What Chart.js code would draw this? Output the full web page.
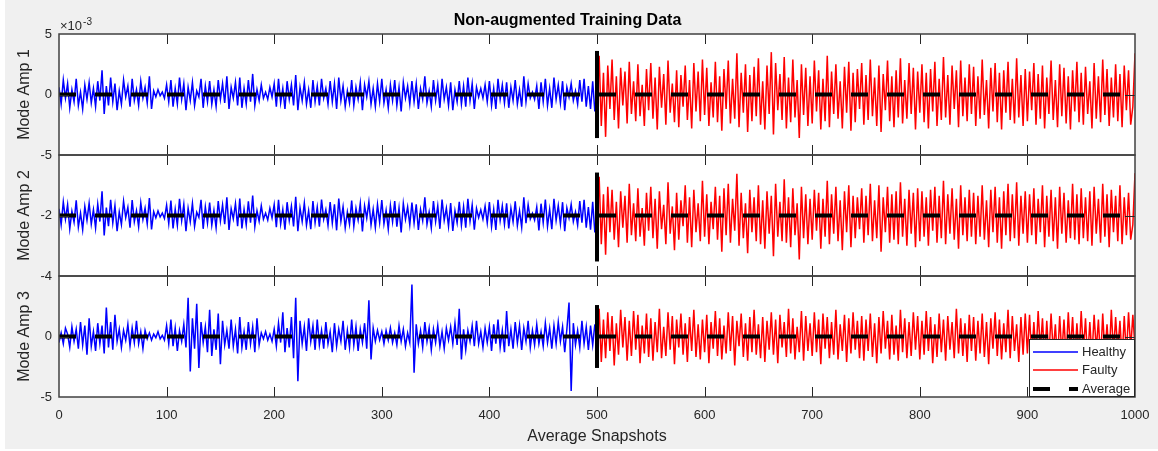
<!DOCTYPE html>
<html><head><meta charset="utf-8">
<script src="https://cdn.jsdelivr.net/npm/chart.js@4.4.0/dist/chart.umd.min.js"></script>
<style>
html,body{margin:0;padding:0;background:#ffffff;}
#wrap{position:relative;width:1158px;height:451px;overflow:hidden;}
#panel{position:absolute;left:5px;top:0;width:1153px;height:449px;background:#f0f0f0;}
canvas{position:absolute;left:0;top:0;}
</style></head><body>
<div id="wrap"><div id="panel"></div><canvas id="c" width="1158" height="451"></canvas></div>
<script>
const TITLE = 'Non-augmented Training Data';
const X_LABEL = 'Average Snapshots';
const Y_LABELS = ['Mode Amp 1', 'Mode Amp 2', 'Mode Amp 3'];
const X_TICKS = [0, 100, 200, 300, 400, 500, 600, 700, 800, 900, 1000];
const Y_RANGES = [[-5, 5], [-4, 0], [-5, 5]];
const Y_TICKS = [[-5, 0, 5], [-4, -2], [-5, 0]];
const EXPONENT_BASE = '\u00d710';
const EXPONENT_POWER = '-3';
const LEGEND_LABELS = ['Healthy', 'Faulty', 'Average'];
const STEP = 2;
const HEALTHY_START = 0;
const FAULTY_START = 500;
const SPLIT_X = 500;
const X_MIN = 0, X_MAX = 1000;

const HEALTHY_1 = [
0.6,-0.8,1.2,-0.3,0.9,-1.1,0.4,-0.6,1.3,-0.9,0.2,-1.2,0.8,-0.4,1.0,-0.7,0.5,-1.0,1.1,-0.5,2.0,-1.6,0.7,-0.9,1.4,
-0.6,0.9,-1.3,0.3,-0.8,1.2,-0.2,0.7,-1.0,1.3,-0.5,0.4,-0.9,1.1,-0.3,0.6,-0.7,1.5,-1.2,0.3,-0.2,0.4,-0.1,0.2,-0.3,
0.8,-0.6,1.2,-1.0,0.5,-0.8,1.4,-0.4,0.9,-1.3,0.6,-0.5,1.0,-0.9,0.3,-0.2,1.3,-1.1,0.7,-0.6,1.1,-0.8,0.4,-1.0,1.2,
-0.4,0.9,-0.7,1.5,-1.2,0.6,-0.3,1.0,-0.9,1.4,-1.1,0.5,-0.8,1.2,-0.6,1.7,-0.9,0.4,-0.5,0.8,-0.3,0.2,-0.4,0.6,-0.2,
0.9,-1.0,1.3,-0.7,0.5,-1.2,1.1,-0.4,0.8,-0.9,1.6,-1.3,0.6,-0.5,1.0,-0.8,0.4,-1.1,1.2,-0.6,0.7,-0.9,1.3,-0.3,0.5,
-0.8,1.1,-0.6,0.9,-1.2,1.4,-0.5,0.7,-1.0,0.3,-0.7,1.2,-0.9,0.6,-0.4,1.0,-1.3,0.8,-0.2,1.1,-0.8,0.5,-1.0,0.9,-0.6,
1.3,-0.7,0.4,-1.1,0.8,-0.5,1.2,-0.9,0.6,-1.4,1.0,-0.3,0.7,-0.8,1.1,-0.6,0.9,-1.2,0.5,-0.4,1.5,-0.7,0.3,-1.0,1.2,
-0.5,0.8,-1.1,1.3,-0.4,0.6,-0.9,1.0,-1.3,0.4,-0.6,1.1,-0.8,0.7,-1.0,1.4,-0.5,0.9,-1.2,0.6,-0.2,0.5,-0.3,0.8,-0.6,
1.1,-0.9,0.5,-1.2,1.3,-0.4,0.8,-0.7,1.0,-1.1,0.6,-0.5,1.2,-0.8,0.4,-1.0,1.5,-0.6,0.9,-0.3,0.2,-0.4,0.7,-1.2,1.0,
-0.6,1.3,-0.9,0.5,-1.1,1.4,-0.4,0.8,-0.7,1.1,-1.3,0.6,-0.2,0.9,-0.5,0.3,-0.8,1.2,-0.6,1.3,-1.0,0.7,-1.2,1.1,-1.4
];
const FAULTY_1 = [
0.4,3.2,-2.6,1.8,-3.5,2.4,-1.2,2.9,-2.1,1.5,-2.8,2.2,-0.9,1.9,-2.4,2.7,-1.6,1.1,-2.2,2.5,-1.8,0.8,-2.6,2.1,-1.3,
2.6,-2.0,1.4,-2.9,2.3,-1.1,1.7,-2.5,2.8,-1.5,0.9,-2.3,2.0,-2.7,1.6,-1.0,2.4,-2.1,1.2,-2.8,2.6,-1.4,1.9,-2.2,2.9,
-1.7,2.2,-2.6,1.0,-1.9,2.7,-2.3,1.5,-3.0,2.1,-1.2,2.8,-2.4,1.3,-2.0,3.4,-2.7,1.8,-1.5,2.5,-3.1,1.6,-2.2,2.3,-1.8,
3.0,-2.5,1.1,-2.9,2.4,-1.6,3.5,-3.3,2.6,-1.3,1.7,-2.1,3.1,-2.8,1.4,-2.3,2.9,-1.9,1.2,-3.6,2.5,-1.7,2.2,-2.6,1.5,
-2.4,2.8,-1.4,2.0,-2.9,1.3,-2.2,3.2,-2.7,1.9,-1.6,2.5,-2.0,1.1,-2.8,2.3,-1.5,2.7,-3.0,1.8,-2.3,2.1,-1.2,2.6,-2.5,
1.6,-2.1,2.9,-1.8,1.4,-2.6,2.4,-3.1,1.7,-1.3,2.8,-2.2,1.5,-2.7,2.0,-1.9,3.0,-2.4,1.2,-2.0,2.6,-1.6,2.2,-2.9,1.9,
-1.5,2.5,-2.3,1.8,-2.8,2.1,-1.4,2.7,-2.6,1.3,-2.1,3.1,-1.9,1.6,-2.5,2.4,-1.2,2.0,-2.7,2.8,-1.8,1.4,-2.2,2.5,-1.6,
2.3,-2.6,1.5,-2.0,2.9,-1.7,1.2,-2.8,2.2,-1.4,2.6,-2.3,1.8,-2.9,2.0,-1.5,2.7,-2.1,1.3,-2.4,3.0,-1.9,1.6,-2.6,2.1,
-2.2,1.9,-1.3,2.6,-2.5,1.7,-2.0,2.4,-2.8,1.4,-1.6,2.8,-2.1,1.2,-2.7,2.5,-1.8,2.2,-2.4,1.5,-2.9,2.0,-1.4,2.7,-2.3,
1.8,-2.5,2.3,-1.6,1.1,-2.8,2.6,-2.0,1.5,-2.3,2.9,-1.7,2.1,-2.6,1.4,-1.9,2.5,-2.2,1.7,-2.7,2.4,-1.3,2.0,-2.5,-1.0,3.4
];
const HEALTHY_2 = [
-1.78,-2.31,-1.55,-2.12,-1.64,-2.44,-1.86,-2.22,-1.50,-2.38,-1.92,-2.47,-1.70,-2.16,-1.59,-2.29,-1.81,-2.41,-1.62,-2.20,-1.20,-2.66,-1.74,-2.35,-1.48,
-2.25,-1.67,-2.52,-1.88,-2.30,-1.53,-2.07,-1.73,-2.40,-1.49,-2.21,-1.84,-2.37,-1.58,-2.13,-1.76,-2.28,-1.42,-2.46,-1.87,-2.08,-1.85,-2.05,-1.92,-2.10,
-1.66,-2.27,-1.51,-2.43,-1.79,-2.33,-1.45,-2.17,-1.63,-2.52,-1.76,-2.21,-1.60,-2.36,-1.89,-2.06,-1.48,-2.44,-1.71,-2.25,-1.57,-2.32,-1.83,-2.41,-1.52,
-2.18,-1.65,-2.29,-1.40,-2.48,-1.77,-2.11,-1.61,-2.35,-1.44,-2.43,-1.80,-2.31,-1.53,-2.24,-1.34,-2.37,-1.84,-2.19,-1.68,-2.12,-1.92,-2.15,-1.76,-2.08,
-1.64,-2.39,-1.48,-2.28,-1.80,-2.47,-1.56,-2.17,-1.69,-2.36,-1.38,-2.52,-1.75,-2.20,-1.59,-2.32,-1.84,-2.45,-1.52,-2.24,-1.72,-2.37,-1.47,-2.12,-1.81,
-2.33,-1.56,-2.25,-1.63,-2.49,-1.44,-2.19,-1.71,-2.41,-1.88,-2.29,-1.51,-2.36,-1.76,-2.15,-1.60,-2.53,-1.68,-2.09,-1.55,-2.31,-1.79,-2.40,-1.64,-2.23,
-1.49,-2.28,-1.83,-2.45,-1.67,-2.21,-1.52,-2.37,-1.75,-2.56,-1.60,-2.13,-1.72,-2.31,-1.57,-2.25,-1.63,-2.48,-1.80,-2.17,-1.40,-2.29,-1.88,-2.41,-1.52,
-2.20,-1.68,-2.44,-1.47,-2.16,-1.76,-2.36,-1.59,-2.51,-1.84,-2.24,-1.55,-2.32,-1.71,-2.40,-1.45,-2.19,-1.65,-2.47,-1.77,-2.07,-1.81,-2.12,-1.69,-2.25,
-1.56,-2.37,-1.80,-2.48,-1.48,-2.17,-1.68,-2.29,-1.60,-2.43,-1.76,-2.21,-1.53,-2.33,-1.84,-2.39,-1.40,-2.25,-1.64,-2.12,-1.93,-2.15,-1.72,-2.49,-1.61,
-2.24,-1.47,-2.36,-1.79,-2.45,-1.45,-2.16,-1.67,-2.28,-1.56,-2.52,-1.75,-2.08,-1.63,-2.20,-1.88,-2.32,-1.52,-2.24,-1.48,-2.40,-1.72,-2.47,-1.55,-2.56
];
const FAULTY_2 = [
-1.85,-0.72,-2.95,-1.30,-3.30,-1.05,-2.55,-1.15,-2.80,-1.55,-3.05,-1.20,-2.40,-1.35,-2.90,-0.95,-2.65,-1.60,-2.85,-1.10,-2.70,-1.75,-3.00,-1.25,-2.50,
-1.05,-2.75,-1.45,-3.10,-1.20,-2.45,-1.65,-2.95,-0.90,-2.60,-1.70,-3.15,-1.25,-2.80,-1.50,-2.35,-1.00,-2.90,-1.40,-3.05,-1.15,-2.55,-1.60,-2.85,-0.85,
-2.70,-1.30,-2.95,-1.55,-2.45,-1.05,-2.80,-1.35,-3.20,-1.10,-2.65,-0.95,-2.90,-1.45,-2.50,-0.62,-3.00,-1.25,-2.75,-1.60,-3.25,-1.15,-2.55,-1.40,-2.85,
-1.00,-2.95,-1.50,-3.10,-1.20,-2.60,-1.35,-3.35,-0.95,-2.70,-1.55,-2.85,-0.80,-2.90,-1.40,-3.05,-1.10,-2.65,-1.60,-3.45,-1.05,-2.75,-1.30,-2.95,-1.45,
-2.80,-1.15,-2.50,-1.25,-3.10,-1.45,-2.70,-0.85,-2.95,-1.30,-2.60,-1.05,-2.85,-1.50,-3.15,-1.20,-2.55,-1.00,-3.05,-1.35,-2.75,-1.40,-2.45,-1.10,-2.90,
-1.35,-2.65,-0.95,-2.85,-1.50,-2.75,-1.00,-3.20,-1.40,-2.55,-1.05,-2.90,-1.30,-2.80,-1.20,-2.95,-0.90,-2.70,-1.45,-3.00,-1.15,-2.60,-1.25,-3.05,-1.10,
-2.85,-1.20,-2.70,-1.40,-3.00,-1.15,-2.50,-1.05,-2.90,-1.35,-2.75,-0.85,-2.95,-1.30,-2.60,-1.10,-2.80,-1.45,-3.10,-1.00,-2.65,-1.40,-2.85,-1.15,-2.70,
-1.25,-2.95,-1.35,-2.70,-1.00,-2.80,-1.50,-3.05,-1.15,-2.55,-1.05,-2.90,-1.40,-3.10,-1.20,-2.65,-0.95,-2.85,-1.30,-2.75,-0.90,-3.00,-1.35,-2.60,-1.20,
-2.90,-1.30,-2.65,-1.10,-2.95,-1.45,-2.55,-1.00,-3.05,-1.35,-2.70,-1.15,-2.85,-1.40,-3.10,-1.05,-2.60,-1.25,-2.90,-1.50,-2.75,-0.95,-2.80,-1.30,-2.95,
-1.10,-2.75,-1.40,-2.85,-1.20,-3.00,-1.05,-2.60,-1.45,-2.90,-0.95,-2.70,-1.30,-3.05,-1.15,-2.55,-1.35,-2.85,-1.00,-2.95,-1.40,-2.65,-1.25,-2.80,-2.30,-0.60
];
const HEALTHY_3 = [
-0.5,0.3,-0.6,0.7,0.2,-0.9,0.8,-0.4,0.6,-1.0,1.2,-0.7,0.9,-1.5,1.5,-0.8,0.4,-1.2,1.1,-0.6,0.9,-1.4,2.4,-0.9,1.2,
-1.1,1.8,-0.4,0.6,-0.9,0.5,-0.3,1.0,-0.8,0.7,-0.5,1.3,-0.6,0.4,-1.0,0.5,-0.2,0.3,-0.3,0.2,-0.1,0.4,-0.2,0.1,-0.3,
0.9,-0.6,1.4,-0.8,0.7,-1.2,0.5,-0.4,1.0,-0.9,3.2,-2.9,1.5,-1.0,2.7,-2.6,1.2,-0.5,0.8,-1.3,2.2,-1.6,0.6,-1.1,1.9,
-2.3,1.3,-0.7,0.5,-1.0,1.4,-0.8,0.6,-1.4,1.6,-0.9,0.4,-1.1,1.2,-0.6,0.8,-1.3,1.5,-0.7,0.3,-0.2,0.4,-0.3,0.2,-0.4,
0.6,-0.8,1.1,-0.5,2.0,-1.3,0.7,-0.9,1.6,-1.8,3.2,-3.7,1.3,-0.6,0.8,-1.2,1.5,-0.4,0.9,-1.1,1.4,-0.7,0.5,-1.0,1.2,
-0.6,0.4,-1.3,1.1,-0.8,0.6,-0.4,1.3,-1.1,0.5,-0.9,1.4,-0.7,0.8,-1.2,0.6,-0.5,1.1,-1.0,3.0,-1.9,0.7,-0.4,0.5,-0.3,
0.4,-0.6,0.5,-0.3,0.7,-0.5,0.3,-0.7,0.9,-0.4,0.6,-0.8,0.3,-0.5,4.3,-3.0,1.0,-0.6,0.5,-0.9,1.2,-0.4,0.7,-1.1,0.6,
-0.5,0.9,-0.8,0.4,-1.0,0.7,-0.3,0.8,-0.6,1.1,-0.7,2.3,-1.9,0.6,-1.1,0.5,-0.4,0.9,-0.8,1.3,-0.6,0.4,-0.9,0.7,-0.5,
0.8,-1.2,1.0,-0.6,1.4,-0.9,0.5,-1.3,2.1,-0.8,0.6,-1.0,1.2,-0.5,0.9,-1.1,0.7,-0.4,1.3,-0.9,0.5,-0.7,1.0,-0.6,0.4,
-0.8,1.1,-0.5,0.7,-1.0,0.9,-0.6,1.2,-0.4,0.8,-1.3,0.6,2.8,-4.5,1.1,-0.7,0.5,-0.9,1.3,-0.6,0.8,-1.1,0.9,-0.7,1.0
];
const FAULTY_3 = [
0.3,2.3,-2.1,1.4,-1.8,2.0,-1.2,1.7,-2.4,1.1,-1.5,2.2,-0.9,1.6,-2.0,1.3,-1.6,2.1,-1.1,1.8,-2.2,0.9,-1.4,1.9,-1.7,
1.5,-2.0,1.2,-1.3,2.3,-1.8,0.8,-1.6,2.0,-1.1,1.7,-2.3,1.4,-0.9,1.9,-1.5,1.1,-2.1,1.6,-1.2,2.2,-1.7,1.0,-1.9,1.4,
-1.3,1.8,-2.2,1.2,-1.0,2.1,-1.6,1.5,-1.9,0.9,-1.4,2.0,-1.2,1.7,-2.4,1.3,-0.8,1.9,-1.7,1.1,-2.0,1.6,-1.3,2.2,-1.5,
1.0,-1.8,1.6,-2.1,1.3,-1.1,2.0,-1.5,1.4,-2.2,1.8,-0.9,1.2,-1.7,2.3,-1.4,1.5,-1.9,0.8,-1.3,2.1,-2.0,1.7,-1.2,1.1,
-1.6,2.0,-1.3,1.4,-2.3,1.9,-1.0,1.6,-1.8,1.2,-1.5,2.2,-1.9,1.0,-1.2,1.8,-2.1,1.5,-1.4,2.0,-1.1,1.3,-1.8,1.7,-2.0,
1.4,-1.2,1.9,-1.7,1.1,-2.2,1.6,-1.4,2.1,-1.0,1.3,-1.9,1.8,-1.5,0.9,-2.0,2.2,-1.3,1.5,-1.8,1.2,-1.6,2.0,-1.1,1.7,
-1.9,1.3,-1.5,2.1,-1.2,1.6,-2.2,1.0,-1.7,1.9,-1.3,1.4,-2.0,1.7,-1.1,1.2,-1.8,2.3,-1.4,1.5,-1.6,1.1,-2.1,1.8,-1.2,
1.6,-2.0,1.3,-1.4,1.9,-1.7,1.2,-2.3,1.5,-1.0,2.0,-1.6,1.4,-1.9,1.1,-1.3,2.2,-1.8,1.7,-1.2,1.0,-2.1,1.6,-1.5,1.9,
-1.4,1.8,-1.9,1.2,-1.6,2.1,-1.1,1.5,-2.0,1.3,-1.7,1.9,-1.3,1.0,-2.2,1.7,-1.5,1.4,-1.8,2.0,-1.2,1.6,-1.9,1.1,-1.6,
2.1,-1.3,1.5,-2.0,1.2,-1.7,1.8,-1.1,1.4,-2.1,1.9,-1.5,1.0,-1.8,2.2,-1.4,1.6,-1.2,1.3,-1.9,1.7,-1.6,2.0,-1.0,1.8,-0.9
];
const AVERAGE = [0, -2, 0];
const SPLIT_LOW = [-3.6, -3.52, -2.6];
const SPLIT_HIGH = [3.6, -0.58, 2.6];

const HEALTHY = [HEALTHY_1, HEALTHY_2, HEALTHY_3];
const FAULTY = [FAULTY_1, FAULTY_2, FAULTY_3];
const AXIS_IDS = ['y1', 'y2', 'y3'];
const COLORS = { healthy: '#0000ff', faulty: '#ff0000', average: '#000000', axis: '#262626', text: '#262626' };
const FONT = "'Liberation Sans', Arial, Helvetica, sans-serif";

function toPoints(arr, start) { return arr.map((v, i) => ({ x: start + i * STEP, y: v })); }

const datasets = [];
const legendSets = {};
AXIS_IDS.forEach((id, k) => {
  const avg = { label: LEGEND_LABELS[2], data: [{ x: X_MIN, y: AVERAGE[k] }, { x: X_MAX, y: AVERAGE[k] }], yAxisID: id,
    borderColor: COLORS.average, borderWidth: 4, borderDash: [17, 19], borderCapStyle: 'butt', pointRadius: 0, order: 0 };
  const split = { label: 'split', data: [{ x: SPLIT_X, y: SPLIT_LOW[k] }, { x: SPLIT_X, y: SPLIT_HIGH[k] }], yAxisID: id,
    borderColor: COLORS.average, borderWidth: 4, borderCapStyle: 'butt', pointRadius: 0, order: 0 };
  const h = { label: LEGEND_LABELS[0], data: toPoints(HEALTHY[k], HEALTHY_START), yAxisID: id,
    borderColor: COLORS.healthy, borderWidth: 1.5, pointRadius: 0, order: 2 };
  const f = { label: LEGEND_LABELS[1], data: toPoints(FAULTY[k], FAULTY_START), yAxisID: id,
    borderColor: COLORS.faulty, borderWidth: 1.5, pointRadius: 0, order: 1 };
  datasets.push(h, f, avg, split);
  if (k === 2) { legendSets.items = [h, f, avg]; }
});

function yScale(k) {
  return {
    type: 'linear', position: 'left', stack: 'modes', stackWeight: 1, weight: 1,
    min: Y_RANGES[k][0], max: Y_RANGES[k][1],
    afterBuildTicks: s => { s.ticks = Y_TICKS[k].map(v => ({ value: v })); },
    afterFit: s => { s.width = 59; },
    grid: { display: false, drawTicks: false }, border: { display: false },
    ticks: { padding: 7, color: COLORS.text, font: { size: 13 }, callback: v => String(v) },
    title: { display: true, text: Y_LABELS[k], color: COLORS.text, font: { size: 16 }, padding: { top: 15.4, bottom: 0 } }
  };
}

const matlabFrame = {
  id: 'matlabFrame',
  beforeDatasetsDraw(chart) {
    const { ctx, chartArea: a } = chart;
    ctx.save(); ctx.fillStyle = '#ffffff'; ctx.fillRect(a.left, a.top, a.right - a.left, a.bottom - a.top); ctx.restore();
  },
  afterDatasetsDraw(chart) {
    const { ctx, chartArea: a } = chart;
    const xs = chart.scales.x;
    ctx.save();
    ctx.strokeStyle = COLORS.axis;
    ctx.lineWidth = 1;
    AXIS_IDS.forEach((id, k) => {
      const ys = chart.scales[id];
      ctx.beginPath();
      X_TICKS.forEach(v => {
        if (v <= X_MIN || v >= X_MAX) return;
        const px = Math.round(xs.getPixelForValue(v)) + 0.5;
        ctx.moveTo(px, ys.top); ctx.lineTo(px, ys.top + 10);
        ctx.moveTo(px, ys.bottom); ctx.lineTo(px, ys.bottom - 10);
      });
      Y_TICKS[k].forEach(v => {
        if (v <= Y_RANGES[k][0] || v >= Y_RANGES[k][1]) return;
        const py = Math.round(ys.getPixelForValue(v)) + 0.5;
        ctx.moveTo(a.left, py); ctx.lineTo(a.left + 10, py);
        ctx.moveTo(a.right, py); ctx.lineTo(a.right - 10, py);
      });
      ctx.stroke();
    });
    ctx.lineWidth = 1.5;
    ctx.strokeStyle = '#404040';
    AXIS_IDS.forEach(id => {
      const ys = chart.scales[id];
      ctx.strokeRect(a.left, ys.top, a.right - a.left, ys.bottom - ys.top);
    });
    // exponent label
    const y1 = chart.scales.y1;
    ctx.fillStyle = COLORS.text;
    ctx.textBaseline = 'alphabetic';
    ctx.textAlign = 'left';
    ctx.font = '13px ' + FONT;
    ctx.fillText(EXPONENT_BASE, a.left + 1, y1.top - 4);
    const w = ctx.measureText(EXPONENT_BASE).width;
    ctx.font = '10px ' + FONT;
    ctx.fillText(EXPONENT_POWER, a.left + 1 + w + 1, y1.top - 9);
    // legend
    const y3 = chart.scales.y3;
    const lx = a.right - 106, ly = y3.bottom - 58, lw = 106, lh = 58;
    ctx.fillStyle = '#ffffff';
    ctx.fillRect(lx, ly, lw, lh);
    ctx.lineWidth = 1;
    ctx.strokeStyle = COLORS.axis;
    ctx.strokeRect(lx + 0.5, ly + 0.5, lw - 1, lh - 1);
    ctx.font = '13px ' + FONT;
    ctx.textBaseline = 'middle';
    legendSets.items.forEach((ds, i) => {
      const cy = Math.round(ly + 12.5 + i * 18.5);
      ctx.save();
      ctx.strokeStyle = ds.borderColor;
      ctx.lineWidth = ds.borderWidth >= 2 ? ds.borderWidth : 1.5;
      ctx.setLineDash(ds.borderDash || []);
      ctx.lineCap = 'butt';
      ctx.beginPath(); ctx.moveTo(lx + 4, cy); ctx.lineTo(lx + 49, cy); ctx.stroke();
      ctx.restore();
      ctx.fillStyle = COLORS.text;
      ctx.fillText(LEGEND_LABELS[i], lx + 53, cy);
    });
    ctx.restore();
  }
};

Chart.defaults.font.family = FONT;
new Chart(document.getElementById('c'), {
  type: 'line',
  data: { datasets },
  options: {
    responsive: false, animation: false, devicePixelRatio: 1,
    layout: { padding: { left: 0, right: 23, top: 0, bottom: 0 } },
    plugins: {
      legend: { display: false }, tooltip: { enabled: false },
      title: { display: true, text: TITLE, color: '#000000', font: { size: 16, weight: 'bold' }, padding: { top: 10.5, bottom: 4.3 } }
    },
    elements: { line: { tension: 0 } },
    scales: {
      x: {
        type: 'linear', position: 'bottom', min: X_MIN, max: X_MAX,
        afterBuildTicks: s => { s.ticks = X_TICKS.map(v => ({ value: v })); },
        afterFit: s => { s.height = 54; s.paddingRight = 0; s.paddingLeft = 0; },
        grid: { display: false, drawTicks: false }, border: { display: false },
        ticks: { padding: 11, color: COLORS.text, font: { size: 13 }, maxRotation: 0, autoSkip: false, callback: v => String(v) },
        title: { display: true, text: X_LABEL, color: COLORS.text, font: { size: 16 }, padding: { top: 0, bottom: 4.4 } }
      },
      y3: yScale(2), y2: yScale(1), y1: yScale(0)
    }
  },
  plugins: [matlabFrame]
});
</script>
</body></html>
